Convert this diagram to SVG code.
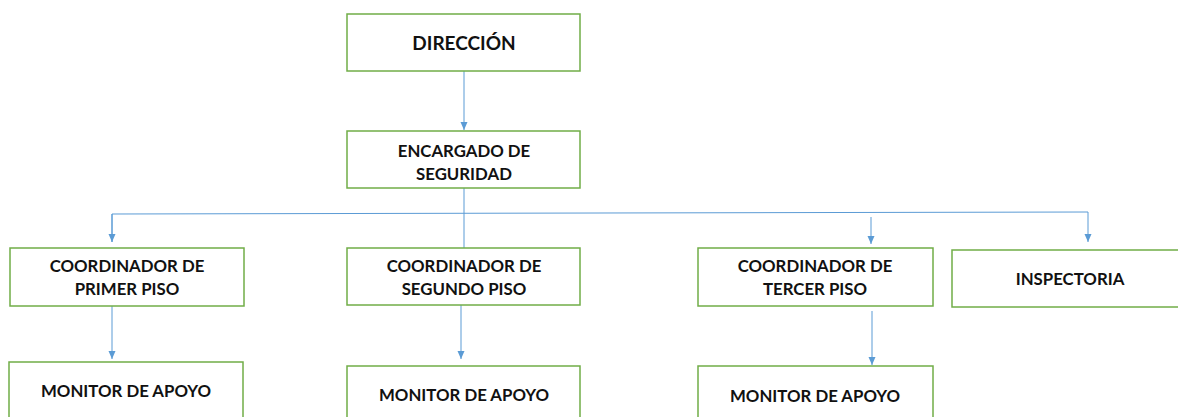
<svg xmlns="http://www.w3.org/2000/svg" width="1178" height="417" viewBox="0 0 1178 417">
<defs>
<style>
.box{fill:#fff;stroke:#70AD47;stroke-width:1.5}
.t{font-family:Lato,"Open Sans",sans-serif;font-weight:bold;font-size:16.8px;fill:#111;text-anchor:middle}
.big{font-size:19px}
.c{fill:none;stroke:#5B9BD5;stroke-width:1}
</style>
<marker id="ah" markerWidth="10" markerHeight="8" refX="8" refY="4" orient="auto" markerUnits="userSpaceOnUse">
<path d="M0,0.5 L8,4 L0,7.5 z" fill="#5B9BD5"/>
</marker>
</defs>
<rect width="1178" height="417" fill="#fff"/>
<g id="connectors">
<path class="c" d="M464,71 V130" marker-end="url(#ah)"/>
<path class="c" d="M464,188 V248"/>
<path class="c" d="M112,242 V214 L1088,212 V242" marker-end="url(#ah)"/>
<path class="c" d="M112,214 V242" marker-end="url(#ah)"/>
<path class="c" d="M871,217 V244" marker-end="url(#ah)"/>
<path class="c" d="M112,306 V359" marker-end="url(#ah)"/>
<path class="c" d="M461,305 V359" marker-end="url(#ah)"/>
<path class="c" d="M872,311 V365" marker-end="url(#ah)"/>
</g>
<g id="direccion"><rect class="box" x="347" y="14" width="233" height="57"/><text class="t big" x="464" y="50">DIRECCIÓN</text></g>
<g id="encargado"><rect class="box" x="347" y="131" width="233" height="57"/><text class="t" x="464" y="157">ENCARGADO DE</text><text class="t" x="464" y="180">SEGURIDAD</text></g>
<g id="coord1"><rect class="box" x="10" y="248" width="234" height="58"/><text class="t" x="127" y="272">COORDINADOR DE</text><text class="t" x="127" y="295">PRIMER PISO</text></g>
<g id="coord2"><rect class="box" x="347" y="248" width="233" height="57"/><text class="t" x="464" y="272">COORDINADOR DE</text><text class="t" x="464" y="295">SEGUNDO PISO</text></g>
<g id="coord3"><rect class="box" x="698" y="248" width="235" height="58"/><text class="t" x="815" y="272">COORDINADOR DE</text><text class="t" x="815" y="295">TERCER PISO</text></g>
<g id="inspectoria"><rect class="box" x="952" y="250" width="240" height="57"/><text class="t" x="1070" y="285">INSPECTORIA</text></g>
<g id="monitor1"><rect class="box" x="9" y="362" width="234" height="70"/><text class="t" x="126" y="397">MONITOR DE APOYO</text></g>
<g id="monitor2"><rect class="box" x="347" y="366" width="233" height="70"/><text class="t" x="464" y="401">MONITOR DE APOYO</text></g>
<g id="monitor3"><rect class="box" x="698" y="366" width="235" height="70"/><text class="t" x="815" y="402">MONITOR DE APOYO</text></g>
</svg>
